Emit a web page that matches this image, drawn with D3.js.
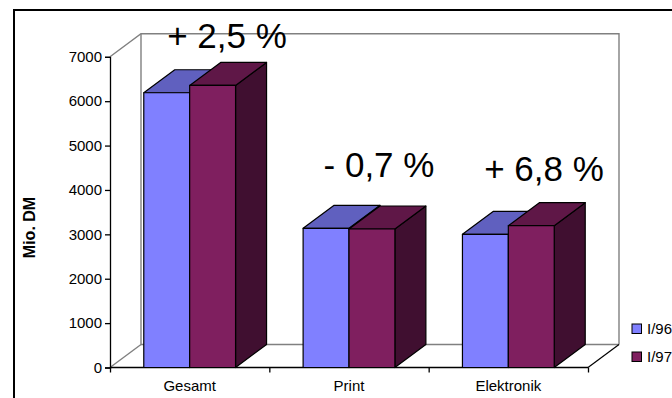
<!DOCTYPE html>
<html>
<head>
<meta charset="utf-8">
<script src="https://cdn.jsdelivr.net/npm/d3@7"></script>
<style>
  html, body { margin: 0; padding: 0; background: #fff; overflow: hidden; }
  svg { display: block; }
  text { font-family: "Liberation Sans", Arial, sans-serif; fill: #000; }
</style>
</head>
<body>
<svg id="chart" width="672" height="398"></svg>
<script>
const categories = ["Gesamt", "Print", "Elektronik"];
const seriesNames = ["I/96", "I/97"];
const valuesI96 = [6190, 3135, 3000];
const valuesI97 = [6355, 3120, 3195];
const changeLabels = ["+ 2,5 %", "- 0,7 %", "+ 6,8 %"];
const yTicks = [0, 1000, 2000, 3000, 4000, 5000, 6000, 7000];

const svg = d3.select("#chart");
const W = 672, H = 398;
const depthX = 31, depthY = 23;

const x0 = d3.scaleBand().domain(categories).range([110, 588]).paddingInner(0.424).paddingOuter(0.212);
const x1 = d3.scaleBand().domain(seriesNames).range([0, x0.bandwidth()]);
const y = d3.scaleLinear().domain([0, 7000]).range([367.5, 56.8]);

const palette = {
  "I/96": { front: "#8080ff", top: "#6060bf", side: "#404080" },
  "I/97": { front: "#7f1f5f", top: "#5f1747", side: "#400f30" }
};

// Outer chart frame; right and bottom edges fall just off the page
svg.append("rect").attr("x", 14).attr("y", 10).attr("width", W + 20).attr("height", H + 20)
  .attr("fill", "#fff").attr("stroke", "#000").attr("stroke-width", 2);

// Back wall and floor of the 3D box
const x = 110, xr = 588, yb = y(0), yt = y(7000);
const wall = svg.append("g").attr("fill", "none").attr("stroke", "#808080").attr("stroke-width", 1.4);
wall.append("path").attr("d", d3.line()([
  [x, yt], [x + depthX, yt - depthY], [xr + depthX, yt - depthY], [xr + depthX, yb - depthY]
]));
wall.append("path").attr("d", d3.line()([[x + depthX, yt - depthY], [x + depthX, yb - depthY], [xr + depthX, yb - depthY]]));
wall.append("path").attr("d", d3.line()([[x, yb], [x + depthX, yb - depthY]]));

// Front-right floor edge continues the black category axis
svg.append("path").attr("fill", "none").attr("stroke", "#000").attr("stroke-width", 1.2)
  .attr("d", d3.line()([[xr, yb], [xr + depthX, yb - depthY]]));

// Axes
const yAxis = d3.axisLeft(y).tickValues(yTicks).tickSize(5).tickPadding(3).tickFormat(d3.format("d"));
const gy = svg.append("g").attr("transform", "translate(110,0)").call(yAxis);
gy.selectAll("path").attr("stroke", "#000").attr("stroke-width", 1.3);
gy.selectAll("line").attr("stroke", "#000").attr("stroke-width", 1.3);
gy.selectAll("text").attr("font-size", 15).attr("font-family", "Liberation Sans");

const xScaleAxis = d3.scalePoint().domain(d3.range(categories.length + 1)).range([110, 588]);
const gx = svg.append("g").attr("transform", `translate(0,${yb})`)
  .call(d3.axisBottom(xScaleAxis).tickSize(5).tickFormat(""));
gx.selectAll("path").attr("stroke", "#000").attr("stroke-width", 1.3).attr("d", `M110,0H588`);
gx.selectAll("line").attr("stroke", "#000").attr("stroke-width", 1.3);

svg.append("g").selectAll("text").data(categories).join("text")
  .attr("x", d => x0(d) + x0.bandwidth() / 2)
  .attr("y", 391)
  .attr("text-anchor", "middle")
  .attr("font-size", 15)
  .text(d => d);

// 3D bars: each series is drawn back-to-front, top and side faces behind the front face
const bars = svg.append("g").attr("stroke", "#000").attr("stroke-width", 1.2).attr("stroke-linejoin", "round");
categories.forEach((cat, i) => {
  seriesNames.forEach((name, s) => {
    const v = (s === 0 ? valuesI96 : valuesI97)[i];
    const l = x0(cat) + x1(name), r = l + x1.bandwidth(), t = y(v), b = y(0);
    const c = palette[name];
    const poly = pts => d3.line()(pts) + "Z";
    bars.append("path").attr("fill", c.side)
      .attr("d", poly([[r, t], [r + depthX, t - depthY], [r + depthX, b - depthY], [r, b]]));
    bars.append("path").attr("fill", c.top)
      .attr("d", poly([[l, t], [l + depthX, t - depthY], [r + depthX, t - depthY], [r, t]]));
    bars.append("rect").attr("fill", c.front)
      .attr("x", l).attr("y", t).attr("width", r - l).attr("height", b - t);
  });
});

// Percentage change above each group
const labelX = [227, 379, 544];
const labelY = [48, 177, 181];
svg.append("g").selectAll("text").data(changeLabels).join("text")
  .attr("x", (d, i) => labelX[i]).attr("y", (d, i) => labelY[i])
  .attr("text-anchor", "middle").attr("font-size", 35).text(d => d);

// Value axis title
svg.append("text").attr("transform", "translate(35,227.5) rotate(-90)")
  .attr("text-anchor", "middle").attr("font-size", 16).attr("font-weight", "bold").text("Mio. DM");

// Legend
const legend = svg.append("g").selectAll("g").data(seriesNames).join("g")
  .attr("transform", (d, i) => `translate(632,${324 + i * 28})`);
legend.append("rect").attr("width", 9.5).attr("height", 9.5)
  .attr("fill", d => palette[d].front).attr("stroke", "#000").attr("stroke-width", 1);
legend.append("text").attr("x", 15).attr("y", 10).attr("font-size", 15).text(d => d);
</script>
</body>
</html>
